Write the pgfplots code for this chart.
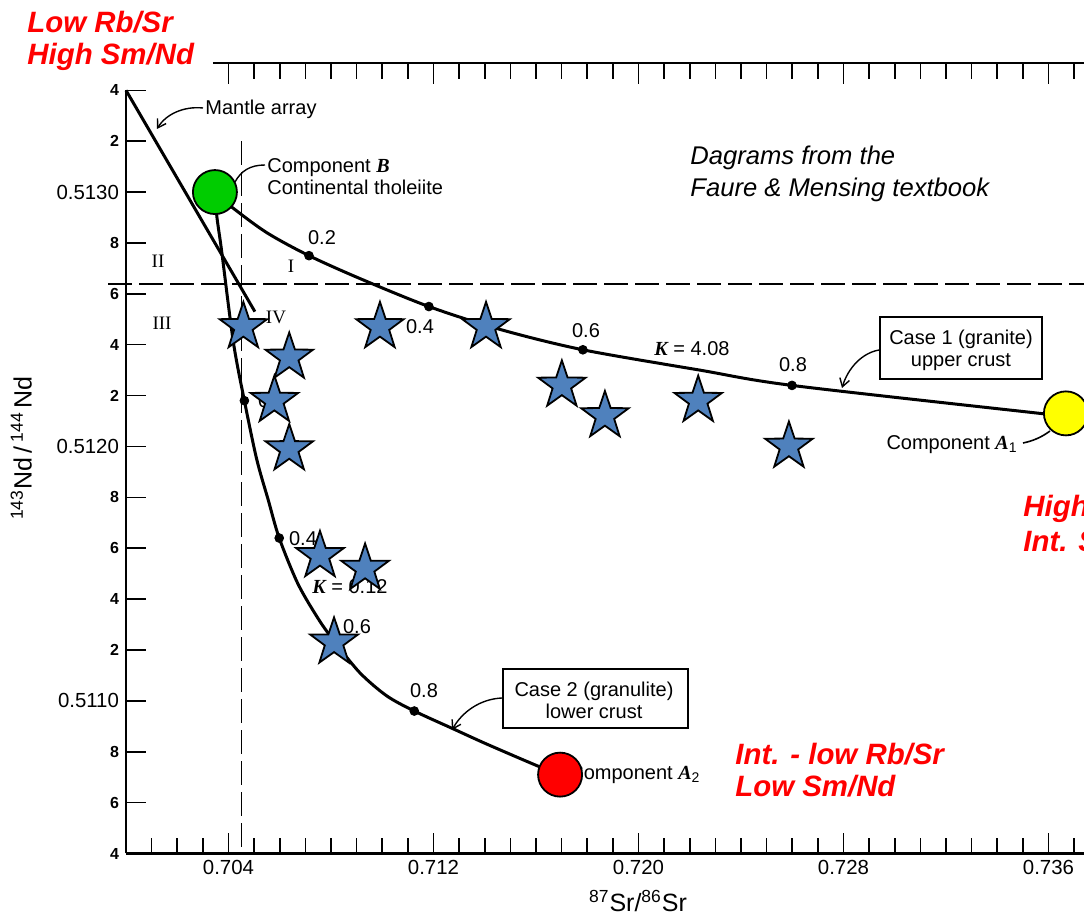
\documentclass[border=0pt]{standalone}
\usepackage{fontspec}
\setmainfont{Liberation Sans}
\newfontfamily\serif{Liberation Serif}
\usepackage{pgfplots}
\pgfplotsset{compat=1.18}
\usetikzlibrary{arrows.meta}

\definecolor{starblue}{RGB}{79,129,189}
\definecolor{compgreen}{RGB}{0,204,0}
\definecolor{compyellow}{RGB}{255,255,0}
\definecolor{compred}{RGB}{255,0,0}
\definecolor{notered}{RGB}{255,0,0}

% filled five-pointed star
\pgfdeclareplotmark{fstar}{%
  \pgfpathmoveto{\pgfpointpolar{90}{\pgfplotmarksize}}%
  \pgfpathlineto{\pgfpointpolar{126}{0.39*\pgfplotmarksize}}%
  \pgfpathlineto{\pgfpointpolar{162}{\pgfplotmarksize}}%
  \pgfpathlineto{\pgfpointpolar{198}{0.39*\pgfplotmarksize}}%
  \pgfpathlineto{\pgfpointpolar{234}{\pgfplotmarksize}}%
  \pgfpathlineto{\pgfpointpolar{270}{0.39*\pgfplotmarksize}}%
  \pgfpathlineto{\pgfpointpolar{306}{\pgfplotmarksize}}%
  \pgfpathlineto{\pgfpointpolar{342}{0.39*\pgfplotmarksize}}%
  \pgfpathlineto{\pgfpointpolar{18}{\pgfplotmarksize}}%
  \pgfpathlineto{\pgfpointpolar{54}{0.39*\pgfplotmarksize}}%
  \pgfpathclose
  \pgfusepathqfillstroke
}

\newcommand\sk[1]{{\serif\bfseries\itshape #1}}
\newcommand\mn{\fontsize{8}{9}\bfseries\selectfont}

\pgfplotsset{
  srnd/.style={
    scale only axis, width=479pt, height=381.6pt,
    at={(63pt,31.75pt)}, anchor=south west,
    xmin=0.700, xmax=0.737386, ymin=0.5104, ymax=0.5134,
    clip=false, scaled ticks=false,
  },
  minorsr/.style={
    minor xtick={0.701,0.702,0.703,0.705,0.706,0.707,0.708,0.709,0.710,0.711,
      0.713,0.714,0.715,0.716,0.717,0.718,0.719,0.721,0.722,0.723,0.724,0.725,
      0.726,0.727,0.729,0.730,0.731,0.732,0.733,0.734,0.735,0.737},
  },
}

\begin{document}
\begin{tikzpicture}
\path[use as bounding box] (0,0) rectangle (542pt,458.5pt);
\clip (0,0) rectangle (542pt,458.5pt);

% frame, reference lines, mantle array and the two mixing curves
\begin{axis}[srnd, minorsr,
  axis x line*=bottom, axis y line*=left,
  axis line style={line width=1.4pt},
  tick align=inside,
  major tick length=10pt, minor tick length=7.5pt,
  tick style={black, line width=0.8pt},
  tick label style={font=\fontsize{10.2}{12}\selectfont},
  xtick={0.704,0.712,0.720,0.728,0.736},
  xticklabels={0.704,0.712,0.720,0.728,0.736},
  ytick={0.5104,0.5106,0.5108,0.5110,0.5112,0.5114,0.5116,0.5118,0.5120,
    0.5122,0.5124,0.5126,0.5128,0.5130,0.5132,0.5134},
  yticklabels={{\mn 4},{\mn 6},{\mn 8},0.5110,{\mn 2},{\mn 4},{\mn 6},{\mn 8},0.5120,
    {\mn 2},{\mn 4},{\mn 6},{\mn 8},0.5130,{\mn 2},{\mn 4}},
]
% bulk-earth reference lines
\addplot[black, line width=0.7pt, dash pattern=on 12pt off 3.5pt]
  coordinates {(0.6993,0.512638) (0.737386,0.512638)};
\addplot[black, line width=0.7pt, dash pattern=on 12pt off 3.5pt]
  coordinates {(0.7045,0.51320) (0.7045,0.5104)};
% mantle array
\addplot[black, line width=1.5pt] coordinates {(0.7000,0.51340) (0.70503,0.51253)};
% Case 1 (granite, upper crust), K = 4.08
\addplot[black, line width=1.5pt, smooth, tension=0.5] coordinates {
  (0.70347,0.51300) (0.70414,0.51294) (0.70550,0.51284) (0.70714,0.51275)
  (0.70913,0.51266) (0.71182,0.51255) (0.71460,0.51246) (0.71783,0.51238)
  (0.72240,0.51230) (0.72599,0.51224) (0.73567,0.51213) (0.73668,0.51212)};
% Case 2 (granulite, lower crust)
\addplot[black, line width=1.5pt, smooth, tension=0.5] coordinates {
  (0.70347,0.51300) (0.70355,0.51290) (0.70373,0.51277) (0.70419,0.51241)
  (0.70462,0.51218) (0.70510,0.51195) (0.70555,0.51179) (0.70598,0.51164)
  (0.70671,0.51146) (0.70752,0.51132) (0.70816,0.51123) (0.70913,0.51111)
  (0.71017,0.51102) (0.71125,0.51096) (0.71277,0.51089) (0.71408,0.51083)
  (0.71616,0.51074) (0.71694,0.51071)};
% mixing fractions 0.2, 0.4, 0.6, 0.8
\addplot[only marks, mark=*, mark size=2.2pt, black] coordinates {
  (0.70714,0.51275) (0.71182,0.51255) (0.71783,0.51238) (0.72599,0.51224)
  (0.70462,0.51218) (0.70598,0.51164) (0.70816,0.51123) (0.71125,0.51096)};
\end{axis}

% upper frame line with its ticks
\begin{axis}[minorsr,
  scale only axis, width=435.5pt, height=395.25pt,
  at={(106.5pt,31.75pt)}, anchor=south west,
  xmin=0.703395, xmax=0.737386, ymin=0, ymax=1,
  axis x line*=top, axis y line=none, ytick=\empty,
  axis line style={line width=1.4pt},
  tick align=inside,
  major tick length=10.5pt, minor tick length=8pt,
  tick style={black, line width=0.8pt},
  xtick={0.704,0.712,0.720,0.728,0.736}, xticklabels={},
  scaled ticks=false, clip=false,
]
\addplot[draw=none] coordinates {(0.72,0.5)};
\end{axis}

% annotations (layout units: 1 = 0.5pt, y downwards)
\begin{scope}[shift={(0pt,458.5pt)}, x=0.5pt, y=-0.5pt,
  every node/.append style={inner sep=0pt, text height=1.5ex, text depth=0.25ex,
    font=\fontsize{10}{12}\selectfont}]
  \node[anchor=west] at (205,108) {Mantle array};
  \draw[line width=0.7pt, -{Straight Barb[length=4pt,width=5pt]}]
    (203,108) .. controls (184,106) and (166,114) .. (157,129);
  \node[anchor=west] at (267,166) {Component \sk{B}};
  \node[anchor=west] at (267,188) {Continental tholeiite};
  \draw[line width=0.7pt] (265,165) .. controls (250,165) and (241,171) .. (235,182);

  \draw[line width=0.8pt] (880,317) rectangle (1042,379);
  \node at (961,338) {Case 1 (granite)};
  \node at (961,360) {upper crust};
  \draw[line width=0.7pt, -{Straight Barb[length=4pt,width=5pt]}]
    (879,350) .. controls (862,353) and (848,368) .. (842,388);
  \node[anchor=east] at (1018,443) {Component \sk{A}\textsubscript{1}};
  \draw[line width=0.8pt] (1023,443) .. controls (1033,441) and (1042,437) .. (1050,431);

  \draw[line width=0.8pt] (503,669) rectangle (688,728);
  \node at (594,690) {Case 2 (granulite)};
  \node at (594,712) {lower crust};
  \draw[line width=0.7pt, -{Straight Barb[length=4pt,width=5pt]}]
    (502,698) .. controls (480,699) and (462,712) .. (452,730);
  \node[anchor=west] at (569,773) {Component \sk{A}\textsubscript{2}};

  \node at (322,238) {0.2};
  \node at (420,327) {0.4};
  \node at (586,331) {0.6};
  \node at (793,365) {0.8};
  \node at (692,349) {\sk{K} = 4.08};
  \node at (272,401) {0.2};
  \node at (303,539) {0.4};
  \node at (357,627) {0.6};
  \node at (424,691) {0.8};
  \node at (350,587) {\sk{K} = 0.12};

  \begin{scope}[every node/.append style={font=\serif\fontsize{9.5}{11}\selectfont}]
    \node at (158,261) {II};
    \node at (291,266) {I};
    \node at (162,323) {III};
    \node at (276,317) {IV};
  \end{scope}

  \node[rotate=90, font=\fontsize{12.5}{14}\selectfont] at (25,448)
    {\textsuperscript{143}Nd\,/\,\textsuperscript{144}\,Nd};
  \node[font=\fontsize{12.5}{14}\selectfont] at (638,905)
    {\textsuperscript{87}Sr/\textsuperscript{86}Sr};

  \begin{scope}[every node/.append style={font=\fontsize{12.8}{15}\itshape\selectfont, anchor=base west}]
    \node at (690,165) {Dagrams from the};
    \node at (690,197) {Faure \& Mensing textbook};
  \end{scope}
\end{scope}

% samples and end-member components
\begin{axis}[srnd, hide axis]
\addplot[only marks, mark=fstar, mark size=12.5pt,
  mark options={fill=starblue, draw=black, line width=0.9pt}] coordinates {
  (0.70458,0.51247) (0.70637,0.51235) (0.70579,0.51218) (0.70637,0.51199)
  (0.70991,0.51247) (0.71405,0.51247) (0.71701,0.51224) (0.71869,0.51212)
  (0.72233,0.51218) (0.72587,0.51200) (0.70757,0.51157) (0.70933,0.51152)
  (0.70812,0.51123)};
\addplot[only marks, mark=*, mark size=11pt,
  mark options={fill=compgreen, draw=black, line width=0.9pt}]
  coordinates {(0.70347,0.51300)};
\addplot[only marks, mark=*, mark size=11pt,
  mark options={fill=compyellow, draw=black, line width=0.9pt}]
  coordinates {(0.73668,0.51213)};
\addplot[only marks, mark=*, mark size=11pt,
  mark options={fill=compred, draw=black, line width=0.9pt}]
  coordinates {(0.71694,0.51071)};
\end{axis}

% end-member characteristics
\begin{scope}[shift={(0pt,458.5pt)}, x=0.5pt, y=-0.5pt,
  every node/.append style={inner sep=0pt, anchor=base west, text=notered,
    font=\fontsize{14.7}{16}\bfseries\itshape\selectfont}]
  \node at (27,33) {Low Rb/Sr};
  \node at (27,64.5) {High Sm/Nd};
  \node at (735,765) {Int. - low Rb/Sr};
  \node at (735,797) {Low Sm/Nd};
  \node at (1023,517) {High Rb/Sr};
  \node at (1023,552) {Int. Sm/Nd};
\end{scope}
\end{tikzpicture}
\end{document}
